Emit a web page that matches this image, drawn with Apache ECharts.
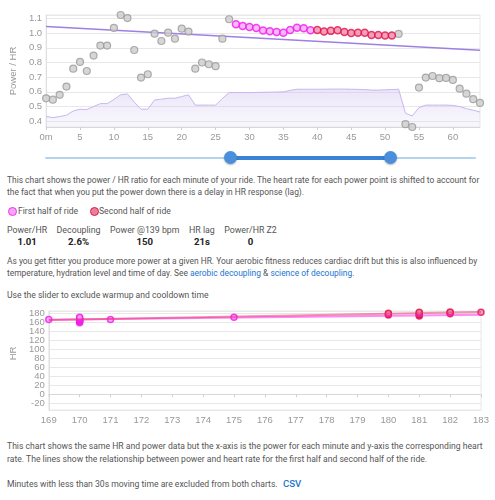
<!DOCTYPE html>
<html>
<head>
<meta charset="utf-8">
<script src="https://cdn.jsdelivr.net/npm/echarts@6/dist/echarts.min.js"></script>
<style>
  body { margin: 0; width: 495px; height: 500px; position: relative; overflow: hidden; background: #fff;
         font-family: Roboto, "Noto Sans", sans-serif; color: #555; }
  .blk { position: absolute; left: 7px; white-space: nowrap; font-size: 8.6px; }
  .sm { font-size: 8.42px; }
  a { color: #1976d2; text-decoration: none; }
  #ratio { position: absolute; left: 0; top: 0; width: 495px; height: 145px; }
  #scatter { position: absolute; left: 0; top: 300px; width: 495px; height: 130px; }
  .track { position: absolute; left: 45px; top: 156.5px; width: 431px; height: 2.5px; background: #b4d2f2; border-radius: 2px; }
  .active { position: absolute; left: 230px; top: 155.5px; width: 160px; height: 4px; background: #3b82d6; }
  .thumb { position: absolute; top: 151px; width: 13px; height: 13px; margin-left: -6.5px; border-radius: 50%;
           background: #4a8fdc; box-shadow: 0 1px 2px rgba(0,0,0,0.3); }
  .dot { position: absolute; top: 2.5px; width: 7px; height: 7px; border-radius: 50%; }
  .legend { position: absolute; top: 204.6px; left: 0; line-height: 12.7px; font-size: 8.6px; white-space: nowrap; }
  .stats { position: absolute; left: 7px; top: 225px; display: flex; gap: 9.5px; font-size: 8.8px; }
  .stats div { text-align: center; line-height: 11px; }
  .stats b { display: block; color: #222; font-size: 9.6px; font-weight: 700; }
</style>
</head>
<body>
<div id="ratio"></div>

<div class="track"></div>
<div class="active"></div>
<div class="thumb" style="left:230px"></div>
<div class="thumb" style="left:390px"></div>

<div class="blk sm" style="top:173.6px; line-height:12.7px">This chart shows the power / HR ratio for each minute of your ride. The heart rate for each power point is shifted to account for<br>the fact that when you put the power down there is a delay in HR response (lag).</div>

<div class="legend">
  <span class="dot" style="left:8px; background:#f7a6f7; border:1px solid #ee2ee8"></span>
  <span style="position:absolute; left:18px">First half of ride</span>
  <span class="dot" style="left:90px; background:#ea7f9c; border:1px solid #d81b50"></span>
  <span style="position:absolute; left:99px">Second half of ride</span>
</div>

<div class="stats">
  <div>Power/HR<b>1.01</b></div>
  <div>Decoupling<b>2.6%</b></div>
  <div>Power @139 bpm<b>150</b></div>
  <div>HR lag<b>21s</b></div>
  <div>Power/HR Z2<b>0</b></div>
</div>

<div class="blk sm" style="top:255.3px; line-height:12px">As you get fitter you produce more power at a given HR. Your aerobic fitness reduces cardiac drift but this is also influenced by<br>temperature, hydration level and time of day. See <a href="#">aerobic decoupling</a> &amp; <a href="#">science of decoupling</a>.</div>

<div class="blk" style="top:289px; line-height:12px">Use the slider to exclude warmup and cooldown time</div>

<div id="scatter"></div>

<div class="blk" style="top:440.4px; line-height:12.6px">This chart shows the same HR and power data but the x-axis is the power for each minute and y-axis the corresponding heart<br>rate. The lines show the relationship between power and heart rate for the first half and second half of the ride.</div>

<div class="blk" style="top:478px; line-height:12.6px">Minutes with less than 30s moving time are excluded from both charts.<a href="#" style="position:absolute; left:276px; font-size:9.6px; font-weight:500">CSV</a></div>

<script>
// minute of the ride
const minutes = [0, 1, 2, 3, 4, 5, 6, 7, 8, 9, 10, 11, 12, 13, 14, 15, 16, 17, 18, 19, 20, 21,
  22, 23, 24, 25, 26, 27, 28, 29, 30, 31, 32, 33, 34, 35, 36, 37, 38, 39, 40, 41, 42, 43,
  44, 45, 46, 47, 48, 49, 50, 51, 52, 53, 54, 55, 56, 57, 58, 59, 60, 61, 62, 63, 64]
// power / HR ratio per minute
const powerHr = [0.556, 0.547, 0.58, 0.636, 0.758, 0.804, 0.742, 0.847, 0.915, 0.915, 1.035,
  1.123, 1.102, 0.885, 0.697, 0.72, 0.996, 0.946, 1.003, 0.962, 1.03, 1.01, 0.758, 0.8, 0.788,
  0.775, 0.962, 1.094, 1.06, 1.049, 1.042, 1.035, 1.017, 1.012, 1.008, 1.003, 1.021, 1.037,
  1.033, 1.019, 1.021, 1.01, 1.015, 1.019, 1.008, 1.001, 1.003, 1.003, 0.987, 0.987, 0.983,
  0.983, 0.994, 0.38, 0.361, 0.629, 0.697, 0.708, 0.693, 0.695, 0.681, 0.622, 0.588, 0.55, 0.525]
// background profile (drawn on the same scale)
const profile = [0.432, 0.425, 0.432, 0.441, 0.47, 0.482, 0.48, 0.5, 0.52, 0.52, 0.548, 0.58,
  0.586, 0.53, 0.482, 0.482, 0.545, 0.55, 0.557, 0.557, 0.568, 0.58, 0.51, 0.51, 0.51, 0.51,
  0.555, 0.595, 0.595, 0.595, 0.595, 0.596, 0.597, 0.598, 0.599, 0.6, 0.61, 0.618, 0.618, 0.618,
  0.618, 0.618, 0.619, 0.619, 0.619, 0.618, 0.617, 0.616, 0.612, 0.612, 0.614, 0.616, 0.618,
  0.455, 0.436, 0.493, 0.51, 0.51, 0.51, 0.51, 0.508, 0.5, 0.486, 0.475, 0.463]
const firstHalf = [28, 39]
const secondHalf = [40, 51]
const trendX = [0, 64]
const trendY = [1.044, 0.883]

// HR vs power
const firstPower = [169, 170, 170, 170, 170, 170, 170, 170, 170, 170, 171, 175]
const firstHr = [167, 160, 162, 164, 165, 166, 167, 168, 170, 172, 167, 172]
const secondPower = [180, 180, 180, 181, 181, 181, 181, 181, 182, 182, 182, 183]
const secondHr = [177, 179, 181, 175, 177, 179, 181, 183, 180, 182, 184, 183]
const fitX = [169, 183]
const firstFitHr = [166.5, 177.5]
const secondFitHr = [166, 183.5]

let labelColor = '#999'
let chartFont = 'Liberation Sans'
const pink = { color: '#f7a6f7', borderColor: '#f018ee', borderWidth: 1.5 }
const crimson = { color: '#f08aa6', borderColor: '#e0104f', borderWidth: 1.5 }

let inRange = (m, r) => m >= r[0] && m <= r[1]
let grey = [], first = [], second = []
minutes.forEach((m, i) => {
  let p = [m, powerHr[i]]
  if (inRange(m, firstHalf)) first.push(p)
  else if (inRange(m, secondHalf)) second.push(p)
  else grey.push(p)
})

let ratioChart = echarts.init(document.getElementById('ratio'))
ratioChart.setOption({
  animation: false,
  grid: { left: 39, right: 15, top: 15, bottom: 18, show: true, borderColor: '#e8e8e8', borderWidth: 1 },
  xAxis: {
    type: 'value', min: 0, max: 64, interval: 5,
    axisLine: { lineStyle: { color: '#d8d8d8' } },
    axisTick: { length: 3, lineStyle: { color: '#d0d0d0' } },
    splitLine: { show: false },
    axisLabel: {
      color: labelColor, fontSize: 9.5, fontFamily: chartFont, margin: 5, showMaxLabel: false,
      formatter: v => (v === 0 ? '0m' : v)
    }
  },
  yAxis: {
    type: 'value', min: 'dataMin', max: 'dataMax', splitNumber: 8,
    name: 'Power / HR', nameLocation: 'middle', nameGap: 27,
    nameTextStyle: { color: labelColor, fontSize: 9.5, fontFamily: chartFont },
    axisLine: { show: true, lineStyle: { color: '#e0e0e0' } },
    axisTick: { show: false },
    splitLine: { lineStyle: { color: '#e8e8e8' } },
    axisLabel: {
      color: labelColor, fontSize: 9.5, fontFamily: chartFont, margin: 4,
      showMinLabel: false, showMaxLabel: false,
      formatter: v => v.toFixed(1)
    }
  },
  series: [
    {
      type: 'line', data: minutes.map((m, i) => [m, profile[i]]), showSymbol: false, z: 1,
      lineStyle: { color: '#c6b6ee', width: 1 },
      areaStyle: {
        color: new echarts.graphic.LinearGradient(0, 0, 0, 1, [
          { offset: 0, color: 'rgba(190,172,235,0.45)' },
          { offset: 1, color: 'rgba(225,218,245,0.3)' }
        ])
      }
    },
    {
      type: 'line', data: trendX.map((x, i) => [x, trendY[i]]), showSymbol: false, z: 2,
      lineStyle: { color: '#9d80e3', width: 1.5 }
    },
    {
      type: 'scatter', data: grey, symbolSize: 7, z: 3,
      itemStyle: { color: '#cccccc', borderColor: '#9a9a9a', borderWidth: 1.2 }
    },
    { type: 'scatter', data: first, symbolSize: 7, z: 3, itemStyle: pink },
    { type: 'scatter', data: second, symbolSize: 7, z: 3, itemStyle: crimson }
  ]
})

let scatterChart = echarts.init(document.getElementById('scatter'))
scatterChart.setOption({
  animation: false,
  grid: { left: 39, right: 14, top: 11, bottom: 20, show: true, borderColor: '#e8e8e8', borderWidth: 1 },
  xAxis: {
    type: 'value', min: 169, max: 183, interval: 1,
    axisLine: { lineStyle: { color: '#d8d8d8' } },
    axisTick: { length: 3, lineStyle: { color: '#d0d0d0' } },
    splitLine: { show: false },
    axisLabel: { color: labelColor, fontSize: 9.5, fontFamily: chartFont, margin: 5 }
  },
  yAxis: {
    type: 'value', min: -35, max: 186, splitNumber: 11,
    name: 'HR', nameLocation: 'middle', nameGap: 27,
    nameTextStyle: { color: labelColor, fontSize: 9.5, fontFamily: chartFont, padding: [0, 0, 0, 14] },
    axisLine: { show: true, lineStyle: { color: '#e0e0e0' } },
    axisTick: { show: false },
    splitLine: { lineStyle: { color: '#e8e8e8' } },
    axisLabel: {
      color: labelColor, fontSize: 9.5, fontFamily: chartFont, margin: 4,
      showMinLabel: false, showMaxLabel: false
    }
  },
  series: [
    {
      type: 'line', data: fitX.map((x, i) => [x, firstFitHr[i]]), showSymbol: false,
      lineStyle: { color: 'rgba(255,40,240,0.55)', width: 2 }
    },
    {
      type: 'line', data: fitX.map((x, i) => [x, secondFitHr[i]]), showSymbol: false,
      lineStyle: { color: 'rgba(230,60,110,0.55)', width: 2 }
    },
    { type: 'scatter', data: firstPower.map((p, i) => [p, firstHr[i]]), symbolSize: 6, itemStyle: pink },
    { type: 'scatter', data: secondPower.map((p, i) => [p, secondHr[i]]), symbolSize: 6, itemStyle: crimson }
  ]
})
</script>
</body>
</html>
